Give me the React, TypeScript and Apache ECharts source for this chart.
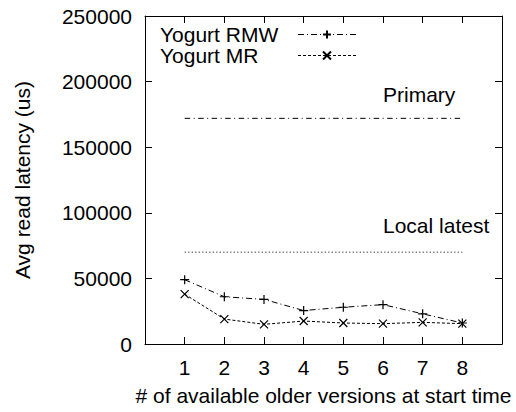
import React, { useEffect, useRef } from "react";
import * as echarts from "echarts";

// Number of older versions available when the read starts
const versions = [1, 2, 3, 4, 5, 6, 7, 8];
// Average read latency in microseconds
const yogurtRMW = [49000, 36000, 34000, 25500, 28000, 30000, 23000, 16000];
const yogurtMR = [38000, 19000, 15000, 17500, 16000, 15500, 16500, 15500];
// Reference latencies
const primaryLatency = 172000;
const localLatestLatency = 70000;
const refLabels = ["Primary", "Local latest"];
const refLabelY = [190000, 90000];
const refLabelX = 6;
const yTicks = [0, 50000, 100000, 150000, 200000, 250000];

const FONT = "Liberation Sans, Arial, Helvetica, sans-serif";
const FS = 21;

const plusSymbol = "path://M5,0L5,10M0,5L10,5";
const crossSymbol = "path://M0,0L10,10M10,0L0,10";

const rmwDash = [6, 3, 1, 3];
const mrDash = [3, 2];

export default function App() {
  const ref = useRef<HTMLDivElement>(null);

  useEffect(() => {
    if (!ref.current) return;
    const chart = echarts.init(ref.current, undefined, { renderer: "svg" });

    const xFirst = versions[0];
    const xLast = versions[versions.length - 1];

    const axisLine = { show: true, onZero: false, lineStyle: { color: "#000", width: 1 } };
    const tickIn = { show: true, inside: true, length: 7, lineStyle: { color: "#000", width: 1 } };

    chart.setOption({
      animation: false,
      backgroundColor: "#fff",
      textStyle: { fontFamily: FONT, color: "#000" },
      grid: { left: 145, right: 14, top: 16, bottom: 68 },
      legend: {
        orient: "vertical",
        left: 160,
        top: 24,
        padding: 0,
        align: "right",
        itemGap: 0,
        itemWidth: 58,
        itemHeight: 10,
        data: [
          { name: "Yogurt RMW", lineStyle: { type: rmwDash, width: 1, color: "#000" } },
          { name: "Yogurt MR", lineStyle: { type: mrDash, width: 1, color: "#000" } },
        ],
        formatter: (name: string) => `{t|${name}}`,
        textStyle: {
          fontFamily: FONT,
          fontSize: FS,
          color: "#000",
          rich: { t: { width: 133, align: "left", fontFamily: FONT, fontSize: FS, color: "#000" } },
        },
      },
      xAxis: [
        {
          type: "value",
          min: 0,
          max: 9,
          interval: 1,
          name: "# of available older versions at start time",
          nameLocation: "middle",
          nameGap: 41,
          nameTextStyle: { fontFamily: FONT, fontSize: FS, color: "#000" },
          axisLine,
          axisTick: tickIn,
          splitLine: { show: false },
          axisLabel: {
            fontFamily: FONT,
            fontSize: FS,
            color: "#000",
            margin: 13,
            formatter: (v: number) => (versions.includes(v) ? String(v) : ""),
          },
        },
        {
          type: "value",
          position: "top",
          min: 0,
          max: 9,
          interval: 1,
          axisLine,
          axisTick: tickIn,
          splitLine: { show: false },
          axisLabel: { show: false },
        },
      ],
      yAxis: [
        {
          type: "value",
          min: yTicks[0],
          max: yTicks[yTicks.length - 1],
          interval: 50000,
          name: "Avg read latency (us)",
          nameLocation: "middle",
          nameGap: 112,
          nameTextStyle: { fontFamily: FONT, fontSize: FS, color: "#000" },
          axisLine,
          axisTick: tickIn,
          splitLine: { show: false },
          axisLabel: {
            fontFamily: FONT,
            fontSize: FS,
            color: "#000",
            margin: 13,
            formatter: (v: number) => String(v),
          },
        },
        {
          type: "value",
          position: "right",
          min: yTicks[0],
          max: yTicks[yTicks.length - 1],
          interval: 50000,
          axisLine,
          axisTick: tickIn,
          splitLine: { show: false },
          axisLabel: { show: false },
        },
      ],
      series: [
        {
          name: "Yogurt RMW",
          type: "line",
          data: versions.map((v, i) => [v, yogurtRMW[i]]),
          color: "#000",
          symbol: plusSymbol,
          symbolSize: 9,
          itemStyle: { color: "#000", borderColor: "#000", borderWidth: 1.2 },
          lineStyle: { color: "#000", width: 1, type: rmwDash },
        },
        {
          name: "Yogurt MR",
          type: "line",
          data: versions.map((v, i) => [v, yogurtMR[i]]),
          color: "#000",
          symbol: crossSymbol,
          symbolSize: 8,
          itemStyle: { color: "#000", borderColor: "#000", borderWidth: 1.2 },
          lineStyle: { color: "#000", width: 1, type: mrDash },
        },
        {
          name: "Primary",
          type: "line",
          data: [
            [xFirst, primaryLatency],
            [xLast, primaryLatency],
          ],
          showSymbol: false,
          symbol: "none",
          lineStyle: { color: "#000", width: 1, type: [5.5, 3.5, 1, 3.5] },
          markPoint: {
            symbol: "circle",
            symbolSize: 0,
            data: [{ coord: [refLabelX, refLabelY[0]] }],
            label: {
              show: true,
              position: "right",
              distance: 0,
              formatter: refLabels[0],
              fontFamily: FONT,
              fontSize: FS,
              color: "#000",
            },
          },
        },
        {
          name: "Local latest",
          type: "line",
          data: [
            [xFirst, localLatestLatency],
            [xLast, localLatestLatency],
          ],
          showSymbol: false,
          symbol: "none",
          lineStyle: { color: "#333", width: 1, type: [1.3, 2.2] },
          markPoint: {
            symbol: "circle",
            symbolSize: 0,
            data: [{ coord: [refLabelX, refLabelY[1]] }],
            label: {
              show: true,
              position: "right",
              distance: 0,
              formatter: refLabels[1],
              fontFamily: FONT,
              fontSize: FS,
              color: "#000",
            },
          },
        },
      ],
    });

    return () => chart.dispose();
  }, []);

  return (
    <div
      ref={ref}
      style={{ position: "fixed", left: 0, top: 0, width: 516, height: 412, background: "#fff" }}
    />
  );
}
